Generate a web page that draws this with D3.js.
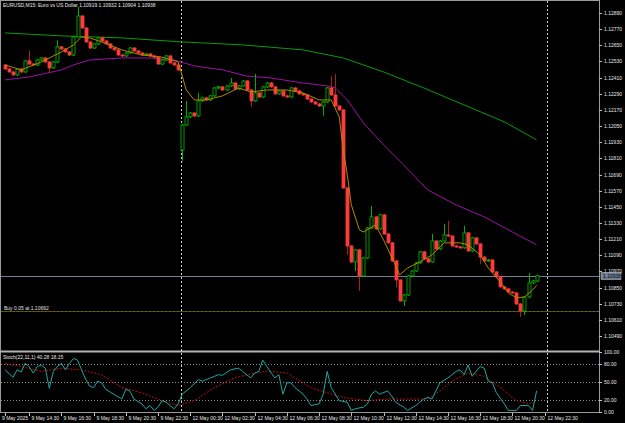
<!DOCTYPE html>
<html><head><meta charset="utf-8">
<script src="https://cdn.jsdelivr.net/npm/d3@7"></script>
<style>body{margin:0;background:#000}svg{display:block}</style>
</head><body>
<svg id="c" width="625" height="423"></svg>
<script>
// ---- data ----
const title = "EURUSD,M15:  Euro vs US Dollar  1.10919 1.10932 1.10904 1.10938";
const firstOpen = 1.12504;
const gapOpens = {44: 1.11872};
const closes = [1.12474,1.12452,1.12430,1.12474,1.12452,1.12534,1.12511,1.12504,1.12541,1.12556,
1.12526,1.12482,1.12526,1.12638,1.12623,1.12601,1.12578,1.12712,1.12868,1.12779,
1.12675,1.12630,1.12660,1.12705,1.12682,1.12660,1.12630,1.12616,1.12578,1.12571,
1.12593,1.12630,1.12608,1.12593,1.12578,1.12586,1.12571,1.12562,1.12511,1.12541,
1.12571,1.12519,1.12504,1.12467,1.12058,1.12118,1.12147,1.12125,1.12237,1.12259,
1.12244,1.12274,1.12333,1.12341,1.12318,1.12348,1.12370,1.12326,1.12348,1.12385,
1.12318,1.12237,1.12296,1.12266,1.12341,1.12370,1.12341,1.12289,1.12311,1.12274,
1.12266,1.12333,1.12311,1.12289,1.12281,1.12251,1.12229,1.12214,1.12199,1.12229,
1.12333,1.12281,1.12199,1.12170,1.11590,1.11159,1.11040,1.11130,1.10936,1.11070,
1.11293,1.11375,1.11286,1.11390,1.11248,1.11182,1.11048,1.10907,1.10751,1.10795,
1.10936,1.10973,1.11033,1.11115,1.11063,1.11040,1.11196,1.11137,1.11196,1.11241,
1.11233,1.11159,1.11152,1.11145,1.11256,1.11122,1.11219,1.11174,1.11077,1.11048,
1.11055,1.10966,1.10929,1.10855,1.10840,1.10817,1.10810,1.10728,1.10676,1.10780,
1.10884,1.10899,1.10938];
const wickHighs = {6:1.12601,18:1.12928,45:1.12229,62:1.12430,81:1.12415,82:1.12430,91:1.11450,109:1.11316,110:1.11338,13:1.12680,24:1.12712,48:1.12290,56:1.12400,98:1.10800,106:1.11240,114:1.11300,130:1.10950};
const wickLows = {44:1.11798,79:1.12133,87:1.10980,88:1.10832,99:1.10721,129:1.10654,11:1.12450,61:1.12200,85:1.11100,97:1.10860,118:1.11030,128:1.10640};
const maFastBars = [0,4,9,14,17,19,21,24,29,34,39,43,45,47,50,54,58,61,65,70,74,78,81,83,84,85,86,88,89,92,94,96,98,100,103,106,109,113,115,118,120,123,125,127,129,131,132];
const maFast = [1.12504,1.12467,1.12526,1.12601,1.12653,1.12712,1.12705,1.12675,1.12616,1.12578,1.12562,1.12526,1.12318,1.12244,1.12244,1.12274,1.12333,1.12303,1.12318,1.12318,1.12296,1.12244,1.12244,1.12118,1.11872,1.11687,1.11464,1.11278,1.11263,1.11315,1.11204,1.11077,1.10944,1.10996,1.11040,1.11092,1.11182,1.11182,1.11167,1.11092,1.10996,1.10892,1.10810,1.10773,1.10780,1.10832,1.10866];
const maMidBars = [0,6,14,17,21,29,36,42,47,54,60,66,74,80,82,85,89,94,99,105,112,119,126,132];
const maMid = [1.12393,1.12415,1.12467,1.12504,1.12541,1.12556,1.12556,1.12541,1.12497,1.12467,1.12422,1.12407,1.12370,1.12348,1.12333,1.12244,1.12073,1.11910,1.11761,1.11575,1.11464,1.11375,1.11263,1.11167];
const maSlowBars = [0,14,29,44,59,74,84,94,104,114,124,132];
const maSlow = [1.12742,1.12720,1.12705,1.12675,1.12653,1.12616,1.12556,1.12452,1.12333,1.12207,1.12081,1.11947];
const bidPrice = 1.10938;
const orderPrice = 1.10662;
const orderLabel = "Buy 0.05 at 1.10662";
const priceTicks = [1.12890,1.12770,1.12650,1.12530,1.12410,1.12290,1.12170,1.12050,1.11930,1.11810,1.11690,1.11570,1.11450,1.11330,1.11210,1.11090,1.10970,1.10850,1.10730,1.10610,1.10490];
const stochLabel = "Stoch(22,11,1) 40.28 18.15";
const stochBars = [0,2,3,4,5,6,7,8,9,10,11,12,13,14,15,16,17,18,19,20,21,22,23,24,25,27,29,30,31,32,34,35,36,37,38,39,40,41,42,43,44,45,46,48,49,50,52,53,54,56,58,59,61,62,63,64,65,67,68,69,70,71,72,74,75,76,78,79,80,81,83,85,86,87,89,90,91,92,93,95,96,97,99,100,102,103,104,105,106,108,110,112,113,114,115,116,118,119,120,121,122,124,125,127,128,130,131,132];
const stochMain = [70.3,57.8,70.3,66.5,81.1,75.7,64.9,75.7,78.4,73.0,39.5,67.6,75.7,81.1,70.3,81.1,89.2,86.5,70.3,55,43.3,40.6,51.4,48.7,37.8,29.7,21.6,37.8,35.1,21.6,13.5,5.4,10.8,2.7,8.1,18.9,16.2,10.8,5.4,13.5,29.7,35.1,40.6,54.1,51.4,54.1,59.5,62.2,61.1,70.3,73.0,67.6,56.8,64.9,67.6,86.5,75.7,56.8,62.2,29.7,48.7,48.7,40.6,29.7,21.6,10.8,13.5,29.7,67.6,40.6,18.9,16.2,2.7,5.4,8.1,13.5,29.7,35.1,29.7,35.1,27,16.2,8.1,2.7,10.8,16.2,21.6,24.3,21.6,48.7,56.8,67.6,70.3,62.2,78.4,59.5,75.7,73.0,51.4,48.7,32.4,13.5,2.7,2.7,10.8,10.8,2.7,35.1,35.1,40.3];
const signalBars = [0,4,9,14,19,24,29,34,39,43,47,52,57,62,65,70,76,80,84,90,95,100,105,108,111,115,119,123,127,130,132];
const signal = [81,75.7,67.6,73,70,62,40.6,32,19,10.8,19,40.6,56.8,65,68,65,40.6,32,24,19,21.6,21.6,21.6,35,51.4,65,59.5,40.6,19,13.5,18.15];
const stochTicks = [100,80,50,20,0];
const stochLevels = [80,50,20];
const timeLabels = ["9 May 2025","9 May 14:30","9 May 16:30","9 May 18:30","9 May 20:30","9 May 22:30","12 May 00:30","12 May 02:30","12 May 04:30","12 May 06:30","12 May 08:30","12 May 10:30","12 May 12:30","12 May 14:30","12 May 16:30","12 May 18:30","12 May 20:30","12 May 22:30"];
const timeLabelBars = [0,6,14,22,30,38,46,54,62,70,78,86,94,102,110,118,126,134];
const separatorBars = [43.75,134.5];

// ---- drawing ----
const svg = d3.select("#c");
const F = "Liberation Sans, Arial, sans-serif";
const FS = 5;
const x = d3.scaleLinear().domain([-1.25, 147.75]).range([0, 600]);
const y = d3.scaleLinear().domain([1.10490, 1.12890]).range([336, 13]);
const ys = d3.scaleLinear().domain([0, 100]).range([412, 352]);
svg.append("rect").attr("width",625).attr("height",423).attr("fill","#000");

svg.append("line").attr("x1",599.5).attr("x2",599.5).attr("y1",0).attr("y2",413).attr("stroke","#9a9a9a");
svg.append("line").attr("x1",0).attr("x2",600).attr("y1",0.5).attr("y2",0.5).attr("stroke","#9a9a9a");
svg.append("line").attr("x1",0.5).attr("x2",0.5).attr("y1",0).attr("y2",413).attr("stroke","#9a9a9a");
svg.append("rect").attr("x",0).attr("y",350.5).attr("width",600).attr("height",2).attr("fill","#b4b4b4");
svg.append("line").attr("x1",0).attr("x2",600).attr("y1",412.5).attr("y2",412.5).attr("stroke","#9a9a9a");

separatorBars.forEach(b => svg.append("line").attr("x1",Math.round(x(b))+0.5).attr("x2",Math.round(x(b))+0.5)
  .attr("y1",1).attr("y2",412).attr("stroke","#d0d0d0").attr("stroke-dasharray","2,2"));

stochLevels.forEach(v => svg.append("line").attr("x1",1).attr("x2",599).attr("y1",Math.round(ys(v))+0.5).attr("y2",Math.round(ys(v))+0.5)
  .attr("stroke","#8a8a8a").attr("stroke-dasharray","1,2"));

const lineP = (bars, vals) => d3.line().x((d,i)=>x(bars[i])).y(d=>y(d))(vals);
svg.append("path").attr("d",lineP(maSlowBars,maSlow)).attr("fill","none").attr("stroke","#0a9a0a").attr("stroke-width",1);
svg.append("path").attr("d",lineP(maMidBars,maMid)).attr("fill","none").attr("stroke","#a010a8").attr("stroke-width",1);

svg.append("line").attr("x1",1).attr("x2",599).attr("y1",Math.round(y(bidPrice))+0.5).attr("y2",Math.round(y(bidPrice))+0.5).attr("stroke","#6f7f95");
const oy = Math.round(y(orderPrice))-1.5;
svg.append("line").attr("x1",1).attr("x2",599).attr("y1",oy).attr("y2",oy).attr("stroke","#1a8a1a").attr("stroke-dasharray","2,2");
svg.append("line").attr("x1",1).attr("x2",599).attr("y1",oy).attr("y2",oy).attr("stroke","#b01818").attr("stroke-dasharray","2,2").attr("stroke-dashoffset",2);
svg.append("text").attr("x",4).attr("y",oy-2).attr("fill","#e0e0e0").attr("font-family",F).attr("font-size",FS).text(orderLabel);

const candles = closes.map((c,i)=>{
  const o = gapOpens[i] !== undefined ? gapOpens[i] : (i===0 ? firstOpen : closes[i-1]);
  const h = wickHighs[i] !== undefined ? wickHighs[i] : Math.max(o,c);
  const l = wickLows[i] !== undefined ? wickLows[i] : Math.min(o,c);
  return {i,o,c,h,l};
});
const g = svg.append("g");
candles.forEach(d=>{
  const up = d.c >= d.o;
  const cx = Math.round(x(d.i))+0.5;
  g.append("line").attr("x1",cx).attr("x2",cx).attr("y1",y(d.h)-1).attr("y2",y(d.l)+1)
    .attr("stroke", up ? "#00b000" : "#a82020");
  const top = y(Math.max(d.o,d.c)), bot = y(Math.min(d.o,d.c));
  g.append("rect").attr("x",cx-1.5).attr("y",top).attr("width",3).attr("height",Math.max(1,bot-top))
    .attr("fill", up ? "#000" : "#ff3a3a").attr("stroke", up ? "#00c000" : "#ff3a3a").attr("stroke-width",0.8);
});
svg.append("path").attr("d",lineP(maFastBars,maFast)).attr("fill","none").attr("stroke","#b08a00").attr("stroke-width",1);

const lineS = (bars, vals) => d3.line().x((d,i)=>x(bars[i])).y(d=>ys(d))(vals);
svg.append("path").attr("d",lineS(signalBars,signal)).attr("fill","none").attr("stroke","#c01010").attr("stroke-dasharray","2,1.5");
svg.append("path").attr("d",lineS(stochBars,stochMain)).attr("fill","none").attr("stroke","#20a8a0");

svg.append("text").attr("x",3).attr("y",7).attr("fill","#e8e8e8").attr("font-family",F).attr("font-size",FS).text(title);
svg.append("text").attr("x",3).attr("y",359).attr("fill","#e8e8e8").attr("font-family",F).attr("font-size",FS).text(stochLabel);

priceTicks.forEach(p=>{
  const py = Math.round(y(p))+0.5;
  svg.append("line").attr("x1",599).attr("x2",602).attr("y1",py).attr("y2",py).attr("stroke","#c0c0c0");
  svg.append("text").attr("x",604).attr("y",py+1.7).attr("fill","#e8e8e8").attr("font-family",F).attr("font-size",FS).text(p.toFixed(5));
});
const by = Math.round(y(bidPrice));
svg.append("rect").attr("x",601).attr("y",by-3.5).attr("width",20).attr("height",7).attr("fill","#6f7f95").attr("stroke","#c8c8c8").attr("stroke-width",0.5);
svg.append("text").attr("x",603).attr("y",by+1.8).attr("fill","#000").attr("font-family",F).attr("font-size",FS).text(bidPrice.toFixed(5));

stochTicks.forEach(v=>{
  const py = Math.round(ys(v))+0.5;
  svg.append("line").attr("x1",599).attr("x2",602).attr("y1",py).attr("y2",py).attr("stroke","#c0c0c0");
  svg.append("text").attr("x",604).attr("y",py+1.7).attr("fill","#e8e8e8").attr("font-family",F).attr("font-size",FS).text(v.toFixed(2));
});

timeLabels.forEach((t,k)=>{
  const tx = Math.round(x(timeLabelBars[k]))+0.5;
  svg.append("line").attr("x1",tx).attr("x2",tx).attr("y1",413).attr("y2",416).attr("stroke","#c0c0c0");
  svg.append("text").attr("x",k===0?2:tx+2).attr("y",420).attr("fill","#e8e8e8").attr("font-family",F).attr("font-size",FS).text(t);
});
</script>
</body></html>
